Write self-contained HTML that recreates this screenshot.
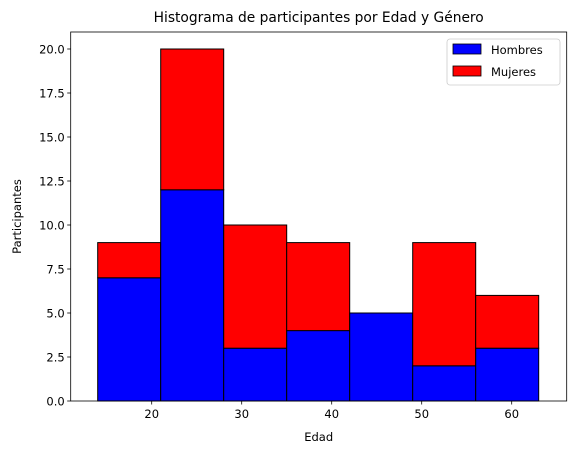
<!DOCTYPE html>
<html><head><meta charset="utf-8"><style>
body{margin:0;background:#fff;font-family:"DejaVu Sans","Liberation Sans",sans-serif}
text{font-family:"DejaVu Sans","Liberation Sans",sans-serif}
</style></head><body>
<svg id="c" width="576" height="454" xmlns="http://www.w3.org/2000/svg"></svg>
<script>
const binEdges=[14,21,28,35,42,49,56,63];
const hombres=[7,12,3,4,5,2,3];
const mujeres=[2,8,7,5,0,7,3];
const xTicks=[20,30,40,50,60];
const yTicks=[0,2.5,5,7.5,10,12.5,15,17.5,20];
const L=70.7,R=566.7,T=32,B=401;
const x=v=>151.7+(v-20)*9.0;
const y=v=>B-v*(B-49)/20;
const svg=document.getElementById('c');
const NS='http://www.w3.org/2000/svg';
function mk(t,a,p){const e=document.createElementNS(NS,t);for(const k in a)e.setAttribute(k,a[k]);(p||svg).appendChild(e);return e;}
for(let i=0;i<hombres.length;i++){
 const x0=x(binEdges[i]),x1=x(binEdges[i+1]);
 const h=mk('rect',{x:x0,y:y(hombres[i]),width:x1-x0,height:y(0)-y(hombres[i]),fill:'#0000ff',stroke:'#000','stroke-width':1});
 
 
 if(mujeres[i]>0){
 const m=mk('rect',{x:x0,y:y(hombres[i]+mujeres[i]),width:x1-x0,height:y(hombres[i])-y(hombres[i]+mujeres[i]),fill:'#ff0000',stroke:'#000','stroke-width':1});
 
 
 }
}
const fr=mk('rect',{x:L,y:T,width:R-L,height:B-T,fill:'none',stroke:'#000','stroke-width':0.8});


xTicks.forEach(v=>{
 mk('line',{x1:x(v),x2:x(v),y1:B,y2:B+3.5,stroke:'#000','stroke-width':0.8});
 const t=mk('text',{x:x(v),y:B+17,'text-anchor':'middle','font-size':11.5,fill:'#000'});t.textContent=v;
 
 
});
yTicks.forEach(v=>{
 mk('line',{x1:L-3.5,x2:L,y1:y(v),y2:y(v),stroke:'#000','stroke-width':0.8});
 const t=mk('text',{x:L-6,y:y(v)+4.3,'text-anchor':'end','font-size':11.5,fill:'#000'});t.textContent=v.toFixed(1);
 
 
});
const ti=mk('text',{x:(L+R)/2,y:T-10,'text-anchor':'middle','font-size':13.8});ti.textContent='Histograma de participantes por Edad y Género';


const xl=mk('text',{x:(L+R)/2,y:441,'text-anchor':'middle','font-size':11.5});xl.textContent='Edad';


const yl=mk('text',{x:21,y:(T+B)/2,'text-anchor':'middle','font-size':11.5,transform:`rotate(-90 21 ${(T+B)/2})`});yl.textContent='Participantes';


const lg=mk('g',{});


mk('rect',{x:447,y:39,width:113,height:46,rx:3,fill:'#fff',stroke:'#ccc','stroke-width':0.8},lg);
[['Hombres','#0000ff',44],['Mujeres','#ff0000',66]].forEach(([n,c,yy])=>{
 mk('rect',{x:453,y:yy,width:28,height:10,fill:c,stroke:'#000','stroke-width':0.8},lg);
 const t=mk('text',{x:491,y:yy+10,'font-size':11.5},lg);t.textContent=n;
 
 
});
</script>
</body></html>
